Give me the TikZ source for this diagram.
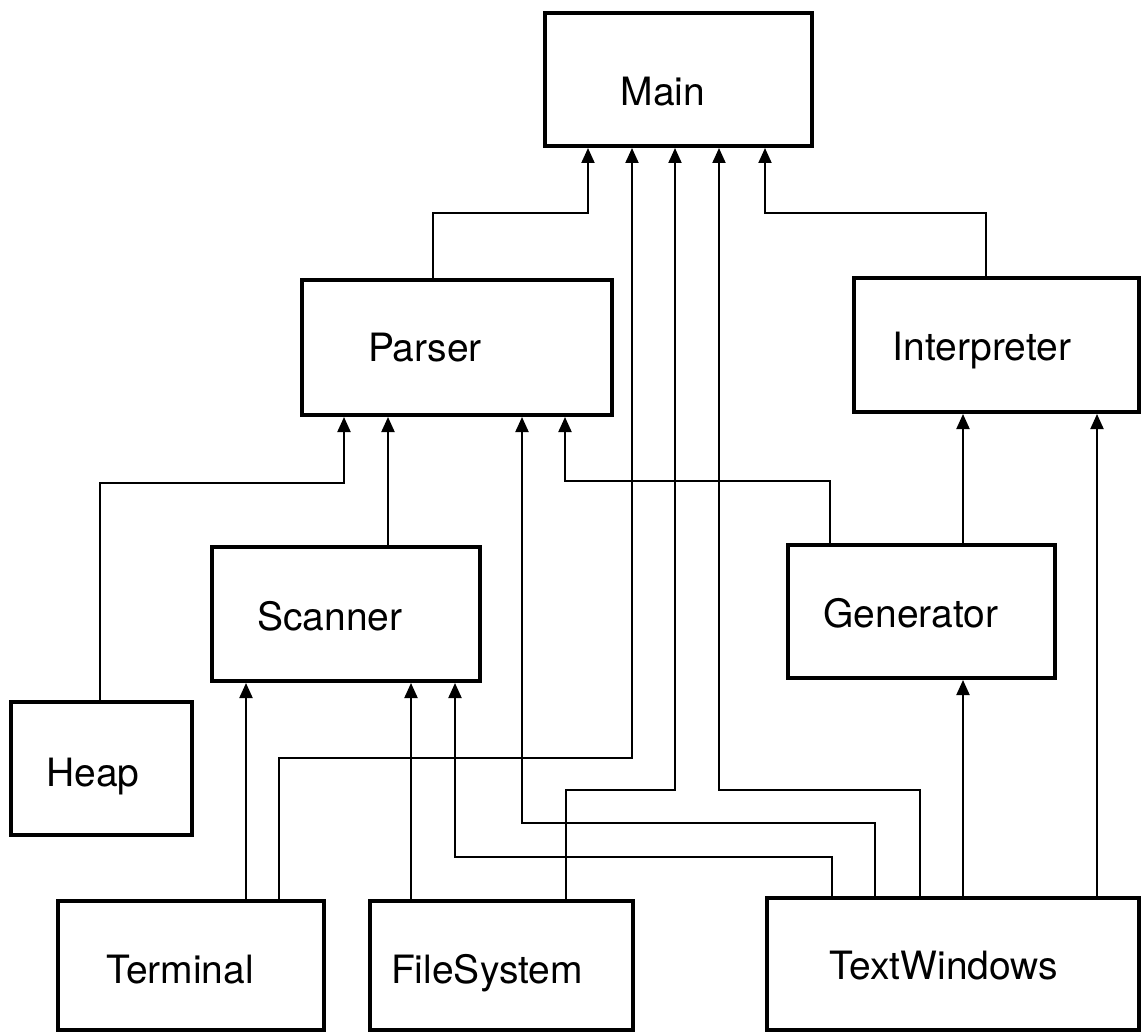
\documentclass[tikz,border=0pt]{standalone}
\usepackage{fontspec}
\setmainfont{TeX Gyre Heros}
\usetikzlibrary{arrows.meta,fit}
\begin{document}
\begin{tikzpicture}[x=0.5pt,y=-0.5pt,
  box/.style={draw, line width=2pt, inner sep=0pt},
  lbl/.style={anchor=base, inner sep=0pt, font=\fontsize{19.5}{23}\selectfont},
  dep/.style={line width=1pt, -{Triangle[width=6.5pt,length=7.5pt]}}]
\fill[white] (0,0) rectangle (1141,1032);
\useasboundingbox (0,0) rectangle (1141,1032);

% module boxes
\node[box, fit={(545,13) (812,146)}] (main) {};
\node[box, fit={(302,280) (612,415)}] (parser) {};
\node[box, fit={(854,278) (1139,412)}] (interp) {};
\node[box, fit={(212,547) (480,681)}] (scanner) {};
\node[box, fit={(788,545) (1055,678)}] (generator) {};
\node[box, fit={(11,702) (192,835)}] (heap) {};
\node[box, fit={(58,901) (324,1030)}] (terminal) {};
\node[box, fit={(370,901) (633,1030)}] (filesys) {};
\node[box, fit={(767,898) (1139,1030)}] (textwin) {};

% module names
\node[lbl] (mainlbl) at (663,106) {Main};
\node[lbl] (parserlbl) at (425,362) {Parser};
\node[lbl] (interplbl) at (982,361) {Interpreter};
\node[lbl] (scannerlbl) at (330,630) {Scanner};
\node[lbl] (generatorlbl) at (911,627) {Generator};
\node[lbl] (heaplbl) at (93,786) {Heap};
\node[lbl] (terminallbl) at (180,983) {Terminal};
\node[lbl] (filesyslbl) at (487,983) {FileSystem};
\node[lbl] (textwinlbl) at (944,979) {TextWindows};

% imports into Main
\draw[dep] (433,0 |- parser.north) |- (588,213) -- (588,0 |- main.south);
\draw[dep] (279,0 |- terminal.north) |- (632,758) -- (632,0 |- main.south);
\draw[dep] (566,0 |- filesys.north) |- (675,790) -- (675,0 |- main.south);
\draw[dep] (920,0 |- textwin.north) |- (719,790) -- (719,0 |- main.south);
\draw[dep] (986,0 |- interp.north) |- (765,213) -- (765,0 |- main.south);

% imports into Parser
\draw[dep] (100,0 |- heap.north) |- (344,483) -- (344,0 |- parser.south);
\draw[dep] (388,0 |- scanner.north) -- (388,0 |- parser.south);
\draw[dep] (875,0 |- textwin.north) |- (522,823) -- (522,0 |- parser.south);
\draw[dep] (830,0 |- generator.north) |- (565,481) -- (565,0 |- parser.south);

% imports into Interpreter
\draw[dep] (963,0 |- generator.north) -- (963,0 |- interp.south);
\draw[dep] (1097,0 |- textwin.north) -- (1097,0 |- interp.south);

% imports into Scanner
\draw[dep] (246,0 |- terminal.north) -- (246,0 |- scanner.south);
\draw[dep] (411,0 |- filesys.north) -- (411,0 |- scanner.south);
\draw[dep] (832,0 |- textwin.north) |- (455,857) -- (455,0 |- scanner.south);

% imports into Generator
\draw[dep] (963,0 |- textwin.north) -- (963,0 |- generator.south);
\end{tikzpicture}
\end{document}
